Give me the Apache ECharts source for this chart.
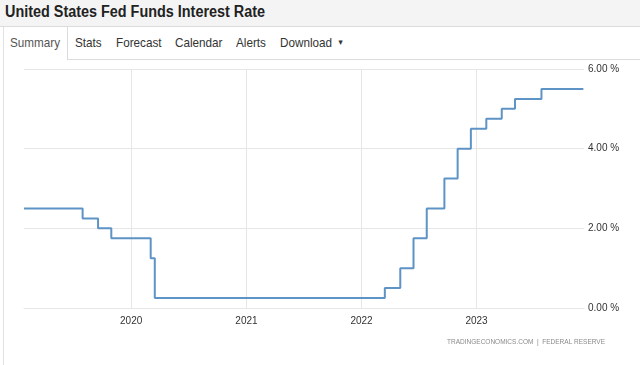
<!DOCTYPE html>
<html lang="en">
<head>
    <meta charset="UTF-8" />
    <title>United States Fed Funds Interest Rate</title>
    <script src="https://cdn.jsdelivr.net/npm/echarts@6/dist/echarts.min.js"></script>
    <style>
        body { margin: 0; width: 640px; height: 365px; overflow: hidden; background: #fff; font-family: Arial, "Liberation Sans", sans-serif; position: relative; }
        .head { position: absolute; left: 0; top: 0; width: 640px; height: 26px; background: #f4f4f4; border-bottom: 1px solid #dcdcdc; }
        .head h1 { margin: 0; position: absolute; left: 5px; top: 3px; font-size: 16px; font-weight: bold; color: #222; transform: scaleX(0.9); transform-origin: left; white-space: nowrap; }
        .line-b { position: absolute; left: 67px; top: 59px; width: 573px; height: 1px; background: #dcdcdc; }
        .line-l { position: absolute; left: 3px; top: 27px; width: 1px; height: 338px; background: #e2e2e2; }
        .line-r { position: absolute; left: 67px; top: 27px; width: 1px; height: 33px; background: #dcdcdc; }
        .tab { position: absolute; top: 35px; font-size: 13px; color: #333; transform: scaleX(0.9); transform-origin: left; white-space: nowrap; }
        #chart { position: absolute; left: 0; top: 60px; width: 640px; height: 305px; }
    </style>
</head>
<body>
    <div class="head"><h1>United States Fed Funds Interest Rate</h1></div>
    <div class="line-l"></div>
    <div class="line-r"></div>
    <div class="line-b"></div>
    <span class="tab" style="left:10px;color:#555">Summary</span>
    <span class="tab" style="left:75px">Stats</span>
    <span class="tab" style="left:116px">Forecast</span>
    <span class="tab" style="left:175px">Calendar</span>
    <span class="tab" style="left:236px">Alerts</span>
    <span class="tab" style="left:280px">Download <span style="font-size:8px;position:relative;top:-2px;left:2px">&#9660;</span></span>
    <div id="chart"></div>
    <script>
        // rate changes (upper bound) and the date they took effect
        var changeDates = [
            "2019-01-26", "2019-07-31", "2019-09-18", "2019-10-30", "2020-03-03", "2020-03-16",
            "2022-03-16", "2022-05-04", "2022-06-15", "2022-07-27", "2022-09-21", "2022-11-02",
            "2022-12-14", "2023-02-01", "2023-03-22", "2023-05-03", "2023-07-26", "2023-12-06"
        ];
        var rates = [
            2.50, 2.25, 2.00, 1.75, 1.25, 0.25,
            0.50, 1.00, 1.75, 2.50, 3.25, 4.00,
            4.50, 4.75, 5.00, 5.25, 5.50, 5.50
        ];
        var yearLines = ["2020-01-01", "2021-01-01", "2022-01-01", "2023-01-01"];
        var yTicks = [0, 2, 4, 6];

        var seriesData = [];
        for (var i = 0; i < changeDates.length; i++) {
            seriesData.push([changeDates[i], rates[i]]);
        }

        var myChart = echarts.init(document.getElementById("chart"));
        var option = {
            animation: false,
            grid: { left: 24, right: 56, top: 9, bottom: 57 },
            xAxis: {
                type: "time",
                min: "2019-01-26",
                max: "2023-12-08",
                splitNumber: 4,
                axisLine: { show: true, lineStyle: { color: "#e6e6e6" } },
                axisTick: { show: false },
                axisLabel: {
                    formatter: "{yyyy}",
                    color: "#333",
                    fontSize: 10,
                    margin: 8,
                    fontFamily: "Arial"
                },
                splitLine: { show: false }
            },
            yAxis: {
                type: "value",
                position: "right",
                min: yTicks[0],
                max: yTicks[yTicks.length - 1],
                interval: 2,
                axisLine: { show: false },
                axisTick: { show: false },
                axisLabel: {
                    formatter: function (v) { return v.toFixed(2) + " %"; },
                    color: "#333",
                    fontSize: 10,
                    margin: 4,
                    fontFamily: "Arial"
                },
                splitLine: { lineStyle: { color: "#e6e6e6" } }
            },
            series: [
                {
                    type: "line",
                    step: "end",
                    symbol: "none",
                    data: seriesData,
                    lineStyle: { color: "#5e93c6", width: 2 },
                    z: 3,
                    markLine: {
                        silent: true,
                        symbol: "none",
                        label: { show: false },
                        lineStyle: { color: "#e6e6e6", type: "solid", width: 1 },
                        data: yearLines.map(function (d) { return { xAxis: d }; }),
                        z: 1
                    }
                }
            ],
            graphic: [
                {
                    type: "text",
                    right: 35,
                    top: 279,
                    style: {
                        text: "TRADINGECONOMICS.COM  |  FEDERAL RESERVE",
                        fill: "#8a8a8a",
                        fontSize: 6.5,
                        fontFamily: "Arial"
                    }
                }
            ]
        };
        myChart.setOption(option);
    </script>
</body>
</html>
